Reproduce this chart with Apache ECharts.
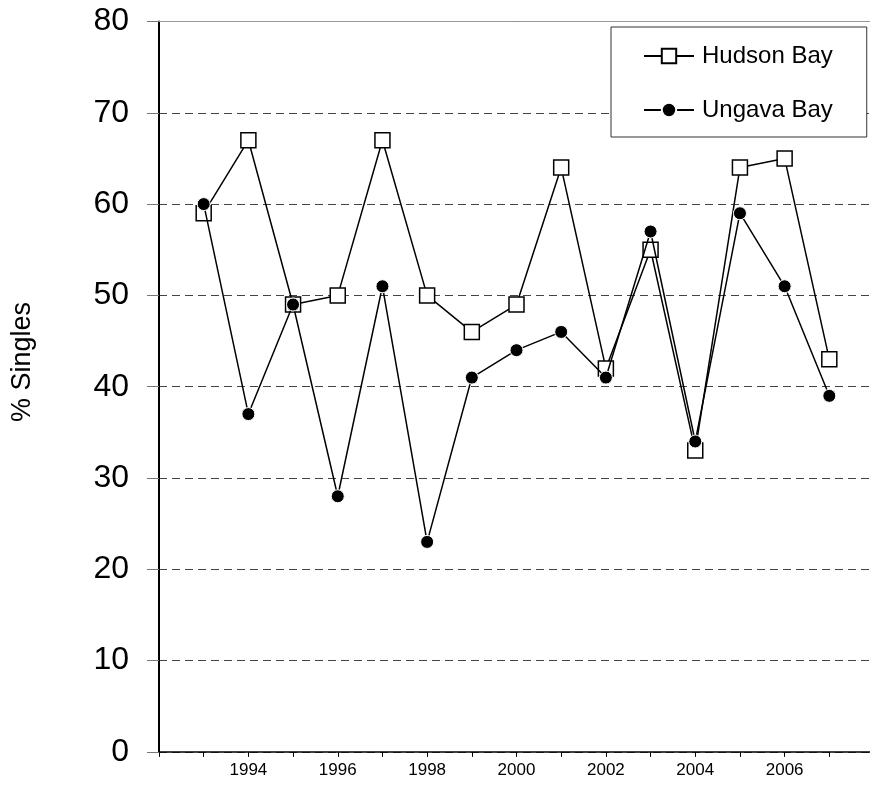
<!DOCTYPE html>
<html>
<head>
<meta charset="utf-8">
<title>% Singles</title>
<script src="https://cdn.jsdelivr.net/npm/echarts@6/dist/echarts.min.js"></script>
<style>
  html, body { margin: 0; padding: 0; background: #fff; }
  #chart { width: 870px; height: 785px; }
</style>
</head>
<body>
<div id="chart"></div>
<script>
// years on the x axis
var years = [1993, 1994, 1995, 1996, 1997, 1998, 1999, 2000, 2001, 2002, 2003, 2004, 2005, 2006, 2007];
// % singles per year
var hudsonBay = [59, 67, 49, 50, 67, 50, 46, 49, 64, 42, 55, 33, 64, 65, 43];
var ungavaBay = [60, 37, 49, 28, 51, 23, 41, 44, 46, 41, 57, 34, 59, 51, 39];
var yTicks = [0, 10, 20, 30, 40, 50, 60, 70, 80];

var font = "Liberation Sans, Arial, sans-serif";

function pairs(vals) {
  return years.map(function (y, i) { return [y, vals[i]]; });
}

var chart = echarts.init(document.getElementById("chart"));

var option = {
  animation: false,
  backgroundColor: "#fff",
  grid: {
    left: 159,
    top: 21.5,
    width: 715,
    height: 730.4,
    outerBoundsMode: "none",
  },
  legend: {
    orient: "vertical",
    left: 611,
    top: 27,
    padding: [17, 34, 15, 32],
    itemGap: 30,
    itemWidth: 50,
    itemHeight: 18,
    backgroundColor: "#fff",
    borderColor: "#333",
    borderWidth: 1,
    textStyle: { fontFamily: font, fontSize: 24, color: "#000", padding: [0, 0, 0, 3] },
    data: ["Hudson Bay", "Ungava Bay"],
  },
  xAxis: [
    {
      type: "value",
      min: 1992,
      max: 2008,
      interval: 1,
      axisLine: { lineStyle: { color: "#000", width: 1.5 } },
      axisTick: { length: 5, lineStyle: { color: "#000", width: 1 } },
      axisLabel: {
        fontFamily: font,
        fontSize: 17,
        color: "#000",
        margin: 10,
        formatter: function (v) {
          return v % 2 === 0 && v > 1992 && v < 2008 ? String(v) : "";
        },
      },
      splitLine: { show: false },
    },
    {
      // thin grey frame line along the top of the plot
      type: "value",
      position: "top",
      min: 1992,
      max: 2008,
      axisLine: { lineStyle: { color: "#999", width: 1 } },
      axisTick: { show: false },
      axisLabel: { show: false },
      splitLine: { show: false },
    },
  ],
  yAxis: {
    type: "value",
    min: yTicks[0],
    max: yTicks[yTicks.length - 1],
    interval: 10,
    axisLine: { show: true, lineStyle: { color: "#000", width: 2 } },
    axisTick: { show: true, length: 12, lineStyle: { color: "#777", width: 1 } },
    axisLabel: { fontFamily: font, fontSize: 32, color: "#000", margin: 30 },
    splitLine: { show: true, lineStyle: { color: "#444", width: 1, type: [8, 5] } },
  },
  graphic: [
    {
      type: "text",
      x: 23,
      y: 362,
      rotation: Math.PI / 2,
      style: {
        text: "% Singles",
        fontFamily: font,
        fontSize: 27,
        fill: "#000",
        align: "center",
        verticalAlign: "middle",
      },
    },
  ],
  series: [
    {
      name: "Hudson Bay",
      type: "line",
      data: pairs(hudsonBay),
      symbol: "rect",
      symbolSize: 15,
      lineStyle: { color: "#000", width: 1.5 },
      itemStyle: { color: "#fff", borderColor: "#000", borderWidth: 1.5 },
      z: 2,
    },
    {
      name: "Ungava Bay",
      type: "line",
      data: pairs(ungavaBay),
      symbol: "circle",
      symbolSize: 13,
      lineStyle: { color: "#000", width: 1.5 },
      itemStyle: { color: "#000", borderColor: "#fff", borderWidth: 1 },
      z: 3,
    },
  ],
};

chart.setOption(option);
</script>
</body>
</html>
